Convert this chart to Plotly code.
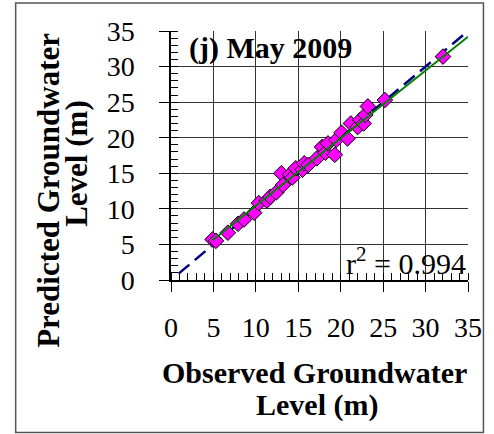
import plotly.graph_objects as go

# Observed vs predicted groundwater level (m), May 2009
observed = [4.9, 5.3, 6.7, 7.9, 8.6, 9.8, 10.35, 11.3, 11.7, 12.4, 13.0, 13.2,
            14.0, 14.3, 14.7, 15.5, 15.7, 16.2, 17.2, 17.8, 18.2, 18.5, 19.3,
            19.5, 20.1, 20.8, 21.2, 22.0, 22.3, 22.7, 22.9, 23.2, 25.2, 32.05]
predicted = [5.7, 5.5, 6.65, 7.9, 8.5, 9.46, 10.8, 11.15, 11.7, 12.3, 15.0, 13.35,
             14.8, 14.4, 15.7, 15.5, 16.4, 16.2, 17.1, 18.7, 17.9, 19.2, 17.6,
             19.7, 20.7, 19.9, 22.0, 21.5, 22.5, 22.0, 23.2, 24.4, 25.3, 31.4]

# fitted trend line and 1:1 line
trend_x = [4.9, 35]
trend_y = [5.6, 34.2]
one_to_one_x = [0.9, 35]
one_to_one_y = [0.9, 35]

x_ticks = [0, 5, 10, 15, 20, 25, 30, 35]
y_ticks = [0, 5, 10, 15, 20, 25, 30, 35]

title_text = "(j) May 2009"
r2_text = "r<sup>2</sup> = 0.994"
x_title = ["Observed Groundwater", "Level (m)"]
y_title = ["Predicted Groundwater", "Level (m)"]

FONT = "Liberation Serif"

fig = go.Figure()
fig.add_trace(go.Scatter(x=one_to_one_x, y=one_to_one_y, mode="lines",
                         line=dict(color="#000080", width=2.5, dash="14px,7px"),
                         showlegend=False, hoverinfo="skip"))
fig.add_trace(go.Scatter(x=observed, y=predicted, mode="markers",
                         marker=dict(symbol="diamond", size=12, color="#FF00FF",
                                     line=dict(color="#000000", width=1)),
                         showlegend=False))
fig.add_trace(go.Scatter(x=trend_x, y=trend_y, mode="lines",
                         line=dict(color="#008000", width=2),
                         showlegend=False, hoverinfo="skip"))

axis_common = dict(
    range=[0, 35], tickmode="array",
    showgrid=True, gridcolor="#333333", gridwidth=1.3,
    showline=True, linecolor="#000000", linewidth=1.5,
    ticks="outside", ticklen=10, tickcolor="#000000", tickwidth=1.3,
    zeroline=False,
    tickfont=dict(family=FONT, size=28, color="#000000"),
    minor=dict(ticks="inside", ticklen=7, dtick=1, tickcolor="#000000",
               tickwidth=1, showgrid=False),
    fixedrange=True,
)
fig.update_xaxes(**axis_common, tickvals=x_ticks, ticktext=[str(v) for v in x_ticks],
                 ticklabelstandoff=12)
fig.update_yaxes(**axis_common, tickvals=y_ticks,
                 ticktext=[str(v) + "\u00a0" for v in y_ticks],
                 ticklabelstandoff=12)

ann = []
ann.append(dict(text="<b>%s</b>" % title_text, x=0.335, y=0.93, xref="paper", yref="paper",
                showarrow=False, xanchor="center", yanchor="middle",
                font=dict(family=FONT, size=30, color="#000000")))
ann.append(dict(text=r2_text, x=1.0, y=0.075, xref="paper", yref="paper",
                showarrow=False, xanchor="right", yanchor="middle",
                font=dict(family=FONT, size=30, color="#000000")))
ann.append(dict(text="<b>%s</b>" % x_title[0], x=0.484, y=-0.373, xref="paper", yref="paper",
                showarrow=False, xanchor="center", yanchor="middle",
                font=dict(family=FONT, size=30, color="#000000")))
ann.append(dict(text="<b>%s</b>" % x_title[1], x=0.49, y=-0.50, xref="paper", yref="paper",
                showarrow=False, xanchor="center", yanchor="middle",
                font=dict(family=FONT, size=30, color="#000000")))
ann.append(dict(text="<b>%s</b>" % y_title[0], x=-0.415, y=0.361, xref="paper", yref="paper",
                showarrow=False, xanchor="center", yanchor="middle", textangle=-90,
                font=dict(family=FONT, size=31, color="#000000")))
ann.append(dict(text="<b>%s</b>" % y_title[1], x=-0.317, y=0.47, xref="paper", yref="paper",
                showarrow=False, xanchor="center", yanchor="middle", textangle=-90,
                font=dict(family=FONT, size=31, color="#000000")))

fig.update_layout(
    width=494, height=434,
    margin=dict(l=171, r=17, t=31, b=154, pad=0),
    paper_bgcolor="#FFFFFF", plot_bgcolor="#FFFFFF",
    font=dict(family=FONT),
    annotations=ann,
    shapes=[dict(type="rect", xref="paper", yref="paper",
                 x0=-0.523, x1=1.052, y0=-0.612, y1=1.112,
                 line=dict(color="#555555", width=1.5), fillcolor="rgba(0,0,0,0)",
                 layer="below")],
    showlegend=False,
)

fig.write_html("out.html")
